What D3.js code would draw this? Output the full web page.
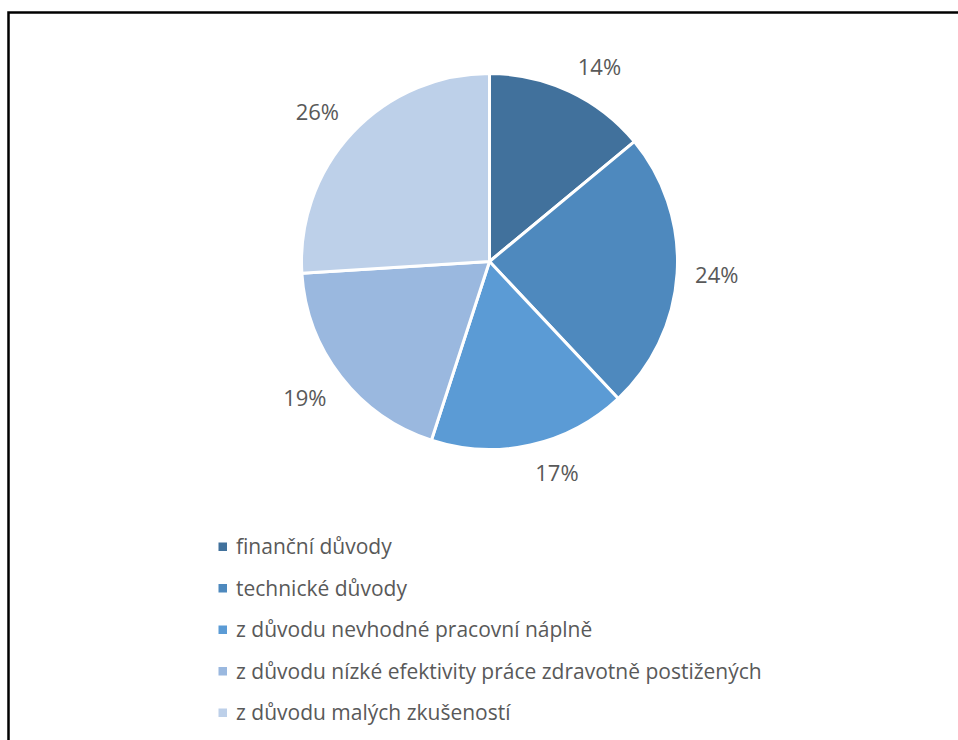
<!DOCTYPE html>
<html>
<head>
<meta charset="utf-8">
<script src="https://cdn.jsdelivr.net/npm/d3@7"></script>
<style>
  html, body { margin: 0; padding: 0; background: #fff; }
  svg { display: block; }
</style>
</head>
<body>
<svg id="chart" width="958" height="740"></svg>
<script>
const categories = [
  "finanční důvody",
  "technické důvody",
  "z důvodu nevhodné pracovní náplně",
  "z důvodu nízké efektivity práce zdravotně postižených",
  "z důvodu malých zkušeností"
];
const values = [14, 24, 17, 19, 26];
const colors = ["#41719C", "#4E89BE", "#5B9BD5", "#9AB8DF", "#BDD0E9"];

const W = 958, H = 740;
const svg = d3.select("#chart");
const textColor = "#595959";

// frame (left and top edges visible)
svg.append("path")
  .attr("d", "M8.5,740 L8.5,12.5 L958,12.5")
  .attr("fill", "none").attr("stroke", "#000").attr("stroke-width", 2.5);

const cx = 489.5, cy = 261.5, r = 188;
const g = svg.append("g").attr("transform", `translate(${cx},${cy})`);

const pie = d3.pie().sort(null).value(d => d);
const arcs = pie(values);
const arc = d3.arc().innerRadius(0).outerRadius(r);

g.selectAll("path.slice").data(arcs).enter().append("path")
  .attr("class", "slice")
  .attr("d", arc)
  .attr("fill", (d, i) => colors[i])
  .attr("stroke", "#fff").attr("stroke-width", 3).attr("stroke-linejoin", "round");

// labels: box touches point at r+17 along mid angle (outside end)
const fmt = d => d + "%";
const labelFont = 22;
const labels = g.selectAll("text.lbl").data(arcs).enter().append("text")
  .attr("class", "lbl")
  .attr("font-family", "'Open Sans', sans-serif")
  .attr("font-size", labelFont)
  .attr("fill", textColor)
  .attr("text-anchor", "middle")
  .attr("dominant-baseline", "central")
  .text(d => fmt(d.data));
labels.each(function(d) {
  const bb = this.getBBox();
  const hw = bb.width / 2 + 1, hh = 10;
  const a = (d.startAngle + d.endAngle) / 2;
  const ux = Math.sin(a), uy = -Math.cos(a);
  const R = r + 17;
  const clamp = v => Math.max(-1, Math.min(1, v * 5));
  const x = ux * R + hw * clamp(ux);
  const y = uy * (R - 60 * (1 - Math.abs(uy)) * (Math.abs(uy) < 0.2 ? 1 : 0)) + hh * clamp(uy);
  d3.select(this).attr("x", x).attr("y", y);
});

// legend
const legend = svg.append("g");
const rowY = d3.scaleLinear().domain([0, 1]).range([554, 595.5]);
const items = legend.selectAll("g").data(categories).enter().append("g")
  .attr("transform", (d, i) => `translate(0,${rowY(i)})`);
items.append("rect")
  .attr("x", 218.5).attr("y", -11.5).attr("width", 8.5).attr("height", 8.5)
  .attr("fill", (d, i) => colors[i]);
items.append("text")
  .attr("x", 236).attr("y", 0)
  .attr("font-family", "'Open Sans', sans-serif")
  .attr("font-size", 21)
  .attr("fill", textColor)
  .text(d => d);
</script>
</body>
</html>
